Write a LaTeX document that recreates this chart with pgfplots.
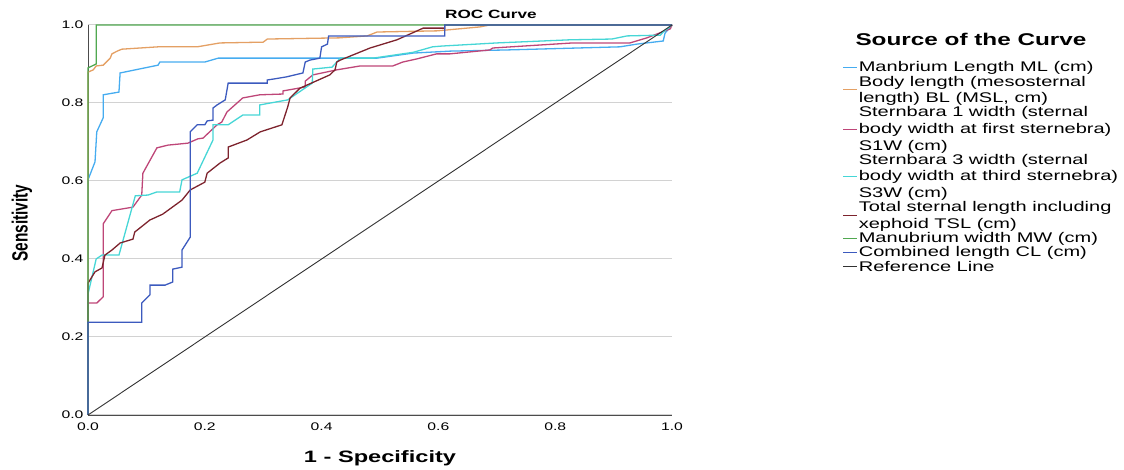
\documentclass[border=0pt]{standalone}
\usepackage{fontspec}
\setmainfont{Liberation Sans}[FakeStretch=1.43]
\newfontfamily\rotfont{Liberation Sans}[FakeStretch=0.7]
\usepackage{pgfplots}
\pgfplotsset{compat=1.18}
\definecolor{cML}{RGB}{70,172,240}
\definecolor{cBL}{RGB}{228,160,100}
\definecolor{cSone}{RGB}{190,70,120}
\definecolor{cSthree}{RGB}{70,214,214}
\definecolor{cTSL}{RGB}{125,35,45}
\definecolor{cMW}{RGB}{80,168,80}
\definecolor{cCL}{RGB}{60,90,190}
\definecolor{cRef}{RGB}{50,50,50}
\begin{document}
\begin{tikzpicture}
\useasboundingbox (-88pt,-55pt) rectangle (1036pt,415pt);
\begin{axis}[
  at={(0,0)}, anchor=south west,
  width=584pt, height=390pt, scale only axis,
  xmin=0, xmax=1, ymin=0, ymax=1,
  clip=false,
  axis lines*=left,
  axis line style={draw=gray!60!black, line width=0.7pt},
  xtick={0,0.2,0.4,0.6,0.8,1.0},
  ytick={0,0.2,0.4,0.6,0.8,1.0},
  major tick length=0pt,
  ymajorgrids,
  grid style={draw=gray!35, line width=1pt},
  /pgf/number format/assume math mode=true,
  /pgf/number format/.cd, fixed, fixed zerofill, precision=1, /pgfplots/.cd,
  tick label style={font=\fontsize{11}{12}\selectfont},
  xticklabel style={yshift=-4pt},
  yticklabel style={xshift=-1pt},
  xlabel={\bfseries 1 - Specificity},
  xlabel style={font=\fontsize{16.5}{18}\selectfont, at={(axis description cs:0.5,-0.110)}, anchor=center},
  ylabel={\rotfont\bfseries Sensitivity},
  ylabel style={font=\fontsize{22}{24}\selectfont, at={(axis description cs:-0.113,0.492)}, anchor=center},
  legend cell align=left,
  legend image code/.code={\draw[#1, line width=1pt] (0pt,0pt) -- (14pt,0pt);},
  legend style={at={(axis description cs:1.287,0.913)}, anchor=north west, draw=none, fill=none,
    font=\fontsize{14}{16.6}\selectfont, row sep=1.6pt,
    nodes={align=left, inner xsep=1pt, inner ysep=0.5pt}},
  every axis plot/.append style={line width=1.3pt},
]
% Manbrium Length ML
\addplot[cML] coordinates {(0,0)(0,0.603)(0.012,0.649)(0.015,0.726)(0.026,0.762)(0.026,0.821)(0.053,0.828)(0.055,0.877)(0.12,0.897)(0.123,0.905)(0.2,0.905)(0.223,0.915)(0.495,0.915)(0.557,0.928)(0.62,0.933)(0.717,0.936)(0.911,0.944)(0.94,0.951)(0.985,0.959)(0.988,0.979)(1,1)};
\addlegendentry{Manbrium Length ML (cm)}
% Body length BL
\addplot[cBL] coordinates {(0,0)(0,0.879)(0.009,0.885)(0.014,0.895)(0.026,0.897)(0.038,0.915)(0.041,0.926)(0.05,0.933)(0.058,0.938)(0.089,0.941)(0.12,0.944)(0.187,0.944)(0.226,0.954)(0.30,0.956)(0.307,0.964)(0.43,0.967)(0.478,0.972)(0.495,0.982)(0.598,0.985)(0.671,0.995)(0.688,1)(1,1)};
\addlegendentry{Body length (mesosternal\\length) BL (MSL, cm)}
% S1W
\addplot[cSone] coordinates {(0,0)(0,0.287)(0.015,0.287)(0.026,0.303)(0.026,0.49)(0.041,0.524)(0.077,0.533)(0.092,0.564)(0.094,0.62)(0.118,0.685)(0.137,0.692)(0.171,0.697)(0.188,0.708)(0.197,0.71)(0.221,0.744)(0.229,0.751)(0.238,0.777)(0.265,0.813)(0.294,0.821)(0.334,0.823)(0.334,0.831)(0.372,0.841)(0.372,0.856)(0.385,0.872)(0.426,0.885)(0.466,0.895)(0.522,0.895)(0.539,0.905)(0.563,0.913)(0.597,0.926)(0.62,0.926)(0.688,0.936)(0.693,0.941)(0.83,0.954)(0.928,0.954)(0.957,0.967)(0.997,0.99)(1,1)};
\addlegendentry{Sternbara 1 width (sternal\\body width at first sternebra)\\S1W (cm)}
% S3W
\addplot[cSthree] coordinates {(0,0)(0,0.31)(0.014,0.40)(0.024,0.41)(0.053,0.41)(0.081,0.562)(0.103,0.564)(0.118,0.572)(0.157,0.572)(0.161,0.603)(0.187,0.62)(0.214,0.705)(0.214,0.744)(0.24,0.744)(0.265,0.769)(0.294,0.769)(0.294,0.795)(0.342,0.808)(0.384,0.851)(0.385,0.887)(0.418,0.892)(0.432,0.915)(0.488,0.915)(0.557,0.93)(0.59,0.944)(0.606,0.946)(0.7,0.954)(0.825,0.962)(0.897,0.964)(0.923,0.972)(0.98,0.974)(0.985,0.982)(1,1)};
\addlegendentry{Sternbara 3 width (sternal\\body width at third sternebra)\\S3W (cm)}
% TSL
\addplot[cTSL] coordinates {(0,0)(0,0.338)(0.012,0.367)(0.024,0.377)(0.029,0.41)(0.041,0.423)(0.055,0.441)(0.077,0.451)(0.08,0.469)(0.106,0.5)(0.128,0.515)(0.161,0.551)(0.175,0.577)(0.2,0.597)(0.204,0.62)(0.226,0.646)(0.24,0.659)(0.24,0.687)(0.272,0.705)(0.295,0.726)(0.332,0.744)(0.342,0.79)(0.346,0.813)(0.363,0.838)(0.414,0.872)(0.423,0.885)(0.426,0.905)(0.432,0.91)(0.483,0.941)(0.529,0.962)(0.574,0.992)(0.611,0.992)(0.611,1)(1,1)};
\addlegendentry{Total sternal length including\\xephoid TSL (cm)}
% MW
\addplot[cMW] coordinates {(0,0)(0,0.89)(0.014,0.90)(0.014,1)(1,1)};
\addlegendentry{Manubrium width MW (cm)}
% CL
\addplot[cCL] coordinates {(0,0)(0,0.238)(0.092,0.238)(0.092,0.287)(0.106,0.308)(0.106,0.333)(0.132,0.333)(0.145,0.341)(0.145,0.374)(0.161,0.379)(0.161,0.423)(0.175,0.456)(0.175,0.726)(0.187,0.744)(0.2,0.744)(0.204,0.754)(0.214,0.756)(0.214,0.787)(0.221,0.795)(0.235,0.808)(0.24,0.851)(0.307,0.851)(0.307,0.859)(0.32,0.862)(0.34,0.867)(0.368,0.877)(0.372,0.905)(0.38,0.91)(0.397,0.915)(0.4,0.944)(0.41,0.951)(0.412,0.972)(0.611,0.972)(0.611,1)(1,1)};
\addlegendentry{Combined length CL (cm)}
% Reference
\addplot[cRef, line width=0.9pt] coordinates {(0,0)(1,1)};
\addlegendentry{Reference Line}
\node[font=\fontsize{12}{14}\selectfont\bfseries, anchor=center] at (axis description cs:0.69,1.026) {ROC Curve};
\node[font=\fontsize{17}{20}\selectfont\bfseries, anchor=center] at (axis description cs:1.512,0.962) {Source of the Curve};
\end{axis}
\end{tikzpicture}
\end{document}
